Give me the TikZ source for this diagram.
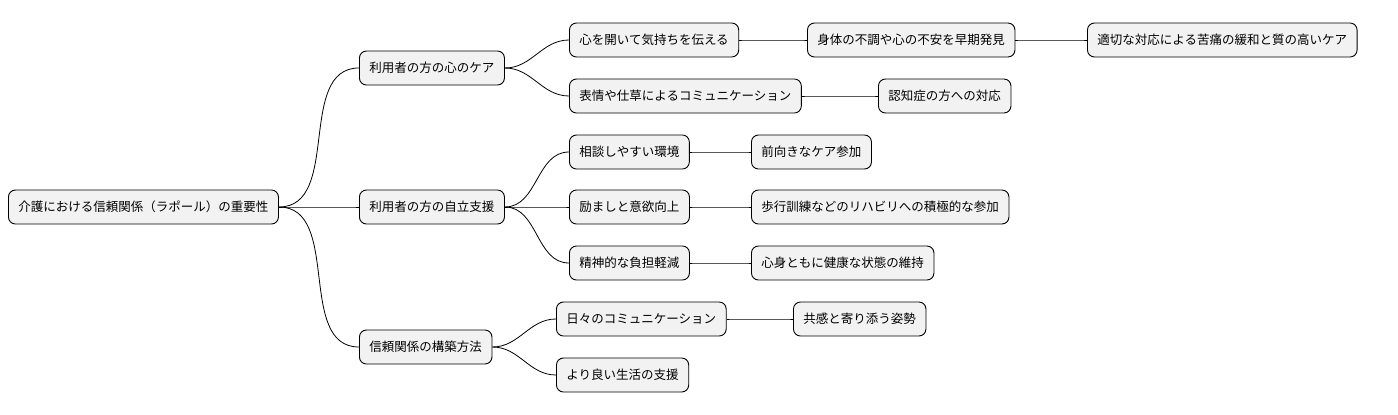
\documentclass[tikz,border=0pt]{standalone}
\usepackage{fontspec}
\setmainfont{Noto Sans CJK JP}
\usetikzlibrary{positioning}
\tikzset{
  topic/.style={draw=black, line width=0.9pt, fill=gray!10, rounded corners=7pt,
    minimum height=34pt, inner xsep=10pt, anchor=west, font=\fontsize{12.5}{15}\selectfont},
  link/.style={line width=0.8pt, black}
}
\begin{document}
\begin{tikzpicture}[x=1pt, y=-1pt]
\useasboundingbox (0,0) rectangle (1398,415);
% root and first level
\node[topic] (root) at (8,207) {介護における信頼関係（ラポール）の重要性};
\node[topic] (care) at (359,68) {利用者の方の心のケア};
\node[topic] (self) at (359,207) {利用者の方の自立支援};
\node[topic] (build) at (359,347) {信頼関係の構築方法};
% care branch
\node[topic] (open) at (569,40) {心を開いて気持ちを伝える};
\node[topic] (early) at (807,40) {身体の不調や心の不安を早期発見};
\node[topic] (relief) at (1087,40) {適切な対応による苦痛の緩和と質の高いケア};
\node[topic] (face) at (569,96) {表情や仕草によるコミュニケーション};
\node[topic] (dementia) at (878,96) {認知症の方への対応};
% self branch
\node[topic] (consult) at (569,152) {相談しやすい環境};
\node[topic] (positive) at (751,152) {前向きなケア参加};
\node[topic] (cheer) at (569,207) {励ましと意欲向上};
\node[topic] (rehab) at (751,207) {歩行訓練などのリハビリへの積極的な参加};
\node[topic] (burden) at (569,263) {精神的な負担軽減};
\node[topic] (health) at (751,263) {心身ともに健康な状態の維持};
% build branch
\node[topic] (daily) at (556,319) {日々のコミュニケーション};
\node[topic] (empathy) at (793,319) {共感と寄り添う姿勢};
\node[topic] (life) at (556,375) {より良い生活の支援};

\foreach \a/\b in {root/care, root/self, root/build,
    care/open, care/face, open/early, early/relief, face/dementia,
    self/consult, self/cheer, self/burden,
    consult/positive, cheer/rehab, burden/health,
    build/daily, build/life, daily/empathy}
  \draw[link] (\a.east) to[out=0, in=180] (\b.west);
\end{tikzpicture}
\end{document}
